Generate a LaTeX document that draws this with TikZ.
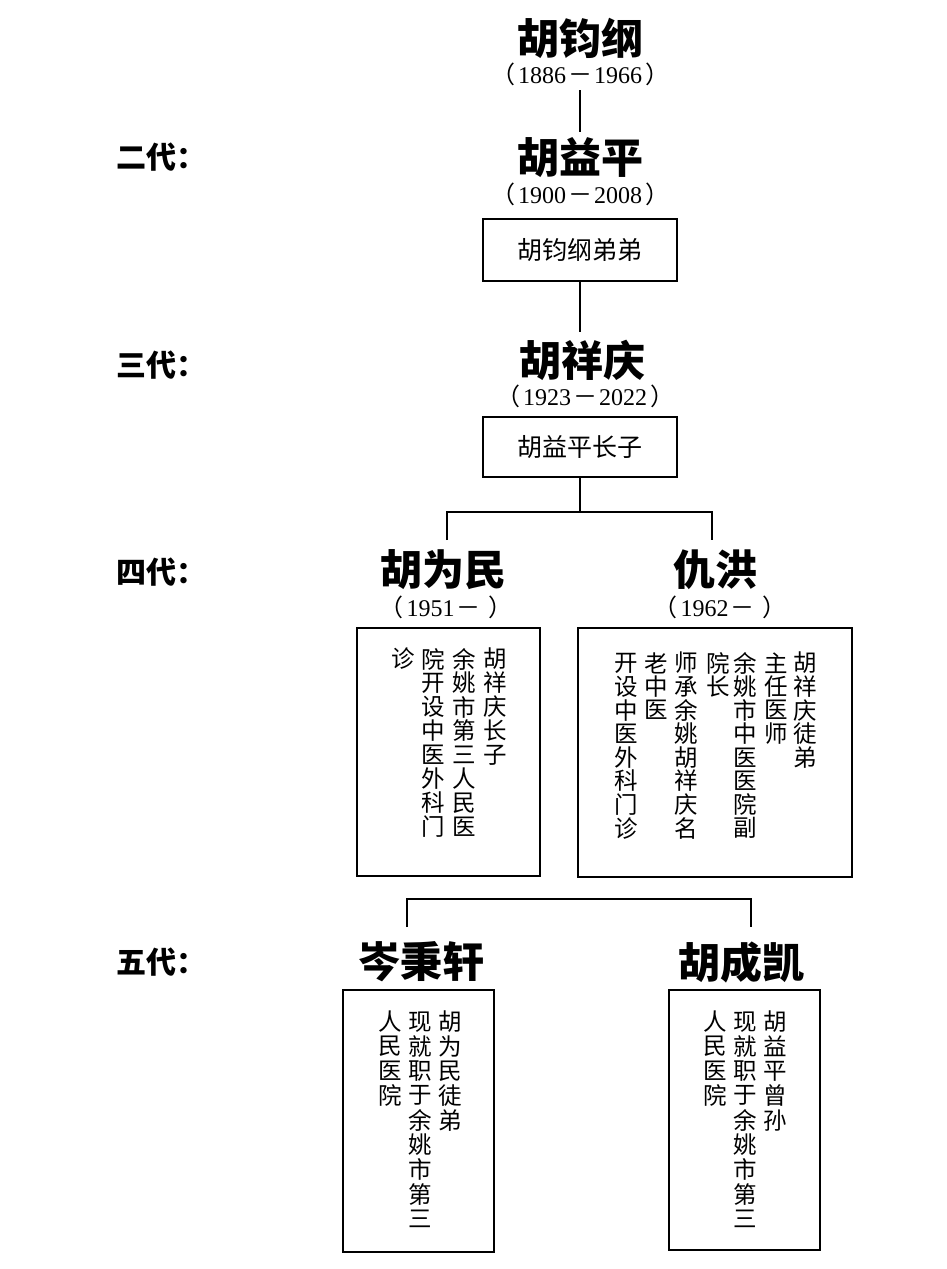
\documentclass[tikz,border=0pt]{standalone}
\usepackage{fontspec}
\setmainfont{Liberation Serif}
\newfontfamily\cjk{Noto Sans CJK SC}
\newcommand\yrs[2]{{\cjk （}\hspace{3pt}#1\hspace{2pt}{\cjk －}\hspace{2pt}#2\hspace{3pt}{\cjk ）}}
\newcommand\yro[1]{{\cjk （}\hspace{3pt}#1\hspace{2pt}{\cjk －}\hspace{8pt}{\cjk ）}}
\newcommand\vcolumn[5]{\foreach \c [count=\i] in {#5} \node[vchar] (#1-\i) at (#2, {#3+#4*(\i-1)}) {\c};}
\begin{document}
\begin{tikzpicture}[x=1pt,y=-1pt,
  namestyle/.style={font={\cjk\bfseries\fontsize{42}{46}\selectfont}, inner sep=0pt},
  yearstyle/.style={font={\fontsize{24}{26}\selectfont}, inner sep=0pt},
  genlabel/.style={font={\cjk\bfseries\fontsize{30}{32}\selectfont}, anchor=west, inner sep=0pt},
  infobox/.style={draw, line width=2.4pt, inner sep=0pt},
  boxtext/.style={font={\cjk\fontsize{25}{27}\selectfont}, inner sep=0pt},
  vchar/.style={font={\cjk\fontsize{23.5}{25}\selectfont}, inner sep=0pt},
  link/.style={line width=1.8pt}]
\useasboundingbox (0,0) rectangle (947,1269);

% generation labels
\node[genlabel] (g2) at (116,157) {二代：};
\node[genlabel] (g3) at (116,365) {三代：};
\node[genlabel] (g4) at (116,572) {四代：};
\node[genlabel] (g5) at (116,962) {五代：};

% generation 1
\node[namestyle] (n1) at (580,38) {胡钧纲};
\node[yearstyle] (y1) at (580,74) {\yrs{1886}{1966}};
% generation 2
\node[namestyle] (n2) at (580,158) {胡益平};
\node[yearstyle] (y2) at (580,194) {\yrs{1900}{2008}};
\node[infobox, minimum width=194pt, minimum height=62pt] (b2) at (580,250) {};
\node[boxtext] (b2t) at (b2.center) {胡钧纲弟弟};
% generation 3
\node[namestyle] (n3) at (582,360) {胡祥庆};
\node[yearstyle] (y3) at (585,396) {\yrs{1923}{2022}};
\node[infobox, minimum width=194pt, minimum height=60pt] (b3) at (580,447) {};
\node[boxtext] (b3t) at (b3.center) {胡益平长子};
% generation 4
\node[namestyle] (n4a) at (443,570) {胡为民};
\node[yearstyle] (y4a) at (446,607) {\yro{1951}};
\node[namestyle] (n4b) at (715,570) {仇洪};
\node[yearstyle] (y4b) at (720,607) {\yro{1962}};
\draw[infobox] (357,628) rectangle (540,876);
\draw[infobox] (578,628) rectangle (852,877);
\vcolumn{a1}{495}{659}{24}{胡,祥,庆,长,子}
\vcolumn{a2}{464}{659}{24}{余,姚,市,第,三,人,民,医}
\vcolumn{a3}{433}{659}{24}{院,开,设,中,医,外,科,门}
\vcolumn{a4}{403}{659}{24}{诊}
\vcolumn{b1}{805}{663}{23.6}{胡,祥,庆,徒,弟}
\vcolumn{b2}{776}{663}{23.6}{主,任,医,师}
\vcolumn{b3}{745}{663}{23.6}{余,姚,市,中,医,医,院,副}
\vcolumn{b4}{718}{663}{23.6}{院,长}
\vcolumn{b5}{686}{663}{23.6}{师,承,余,姚,胡,祥,庆,名}
\vcolumn{b6}{656}{663}{23.6}{老,中,医}
\vcolumn{b7}{626}{663}{23.6}{开,设,中,医,外,科,门,诊}
% generation 5
\node[namestyle] (n5a) at (421,962) {岑秉轩};
\node[namestyle] (n5b) at (741,962) {胡成凯};
\draw[infobox] (343,990) rectangle (494,1252);
\draw[infobox] (669,990) rectangle (820,1250);
\vcolumn{c1}{450}{1022}{24.6}{胡,为,民,徒,弟}
\vcolumn{c2}{420}{1022}{24.6}{现,就,职,于,余,姚,市,第,三}
\vcolumn{c3}{390}{1022}{24.6}{人,民,医,院}
\vcolumn{d1}{775}{1022}{24.6}{胡,益,平,曾,孙}
\vcolumn{d2}{745}{1022}{24.6}{现,就,职,于,余,姚,市,第,三}
\vcolumn{d3}{715}{1022}{24.6}{人,民,医,院}

% connectors
\coordinate (t1) at (580,90);
\coordinate (t2) at (580,132);
\draw[link] (t1) -- (t2);
\coordinate (t3) at (580,332);
\draw[link] (b2.south) -- (t3);
\coordinate (j3) at (580,512);
\coordinate (j4a) at (447,540);
\coordinate (j4b) at (712,540);
\draw[link] (b3.south) -- (j3);
\draw[link] (j4a) |- (j3) -| (j4b);
\coordinate (k5) at (579,899);
\coordinate (k5a) at (407,927);
\coordinate (k5b) at (751,927);
\draw[link] (k5a) |- (k5) -| (k5b);
\end{tikzpicture}
\end{document}
